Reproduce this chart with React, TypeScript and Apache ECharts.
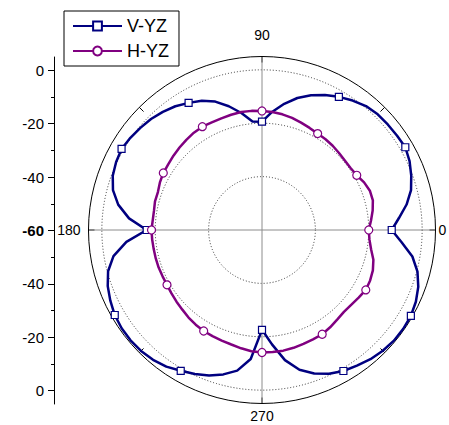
import React, { useEffect, useRef } from 'react';
import * as echarts from 'echarts';

const ANGLES = [
  0, 5, 10, 15, 20, 25, 30, 35, 40, 45, 50, 55, 60, 65, 70, 75, 80, 85,
  90, 95, 100, 105, 110, 115, 120, 125, 130, 135, 140, 145, 150, 155, 160, 165, 170, 175,
  180, 185, 190, 195, 200, 205, 210, 215, 220, 225, 230, 235, 240, 245, 250, 255, 260, 265,
  270, 275, 280, 285, 290, 295, 300, 305, 310, 315, 320, 325, 330, 335, 340, 345, 350, 355,
];

const V_YZ = [
  -11.4, -8.5, -5, -2.2, -0.5, 1, 2, 1.7, 1.5, 1.3, 0.6, -0.8, -2.4, -4.2, -6.3, -8.8, -12, -15.5,
  -19.4, -19.2, -15.5, -12, -8.8, -6.6, -5, -3.4, -2.2, -1.2, -0.5, 0.2, 0.75, 0.3, -0.5, -2.2, -5.3, -10,
  -16.8, -9, -3.5, -0.3, 1.5, 2.7, 3.7, 4.2, 4.3, 4.1, 3.5, 2.5, 0.9, -0.5, -2, -4, -6.5, -11.5,
  -22.6, -17, -10.5, -5.8, -2.8, -0.6, 1, 2, 3.2, 4, 4.5, 4.6, 4.4, 3.6, 2.3, 0.3, -2.8, -7.5,
];

const H_YZ = [
  -20, -19, -17.9, -17, -17, -17.8, -19, -19.5, -19.5, -19.2, -18.8, -18.5, -18.3, -17.8, -17.2, -16.5, -16, -15.6,
  -15.4, -15.2, -15.1, -15.3, -15.5, -15.5, -15.3, -15.5, -15.9, -16.3, -16.7, -17.1, -17.3, -17.8, -18.5, -18.5, -18.9, -18.9,
  -18.6, -18.7, -18.8, -18.8, -18.8, -18.9, -18.9, -18.6, -18.2, -17.8, -17.2, -16.7, -16.3, -16.1, -15.9, -15.6, -15, -14.4,
  -14.1, -14.1, -14.1, -14.3, -14.6, -14.8, -14.9, -15.5, -16.2, -16.6, -16.4, -15.8, -15.1, -15.3, -15.8, -16.8, -18.5, -19.6,
];

const SERIES_NAMES = ['V-YZ', 'H-YZ'];
const MARKER_STEP = 30;
const ANGLE_LABELS = [0, 90, 180, 270];
const LEFT_MAJOR = [-60, -40, -20, 0, 20, 40, 60];
const LEFT_MINOR = [-50, -30, -10, 10, 30, 50];

const FONT = 'Liberation Sans, Arial, sans-serif';
const NAVY = '#000080';
const PURPLE = '#800080';

function buildData(values: number[]) {
  const pts: any[] = ANGLES.map((a, i) =>
    a % MARKER_STEP === 0
      ? { value: [values[i], a] }
      : { value: [values[i], a], symbol: 'none' }
  );
  pts.push({ value: [values[0], 360], symbol: 'none' });
  return pts;
}

export default function App() {
  const ref = useRef<HTMLDivElement>(null);

  useEffect(() => {
    if (!ref.current) return;
    const chart = echarts.init(ref.current, undefined, { renderer: 'svg' });
    const angText = { fontSize: 14, fontFamily: FONT, color: '#000' };
    const option: any = {
      animation: false,
      polar: { center: [262, 230], radius: 173.5 },
      angleAxis: {
        type: 'value',
        min: 0,
        max: 360,
        interval: 45,
        startAngle: 0,
        clockwise: false,
        axisLine: { show: true, lineStyle: { color: '#000', width: 1 } },
        axisTick: { show: true, inside: true, length: 6, lineStyle: { color: '#000', width: 1 } },
        axisLabel: {
          margin: 3,
          color: '#000',
          fontSize: 14,
          fontFamily: FONT,
          formatter: (v: number) => {
            if (v === 90) return '{t|90}';
            if (v === 180) return '{l|180}';
            if (v === 270) return '{b|270}';
            return ANGLE_LABELS.indexOf(v) >= 0 ? String(v) : '';
          },
          rich: {
            t: { ...angText, padding: [0, 0, 12, 0] },
            l: { ...angText, padding: [0, 5, 0, 0] },
            b: { ...angText, padding: [2, 0, 0, 0] },
          },
        },
        splitLine: { show: true, lineStyle: { color: ['#8c8c8c', 'transparent'], width: 1 } },
      },
      radiusAxis: {
        type: 'value',
        min: -60,
        max: 5,
        interval: 20,
        axisLine: { show: false },
        axisTick: { show: false },
        axisLabel: { show: false },
        splitLine: {
          show: true,
          lineStyle: {
            color: ['transparent', '#333', '#333', '#333', 'transparent'],
            type: [1, 2],
            width: 1,
          },
        },
      },
      grid: { left: 54, top: 57, width: 20, height: 347 },
      xAxis: { type: 'value', show: false, min: 0, max: 1 },
      yAxis: [
        {
          type: 'value',
          min: -65,
          max: 65,
          position: 'left',
          axisLine: { show: true, lineStyle: { color: '#000', width: 1 } },
          axisTick: { show: true, length: 6, customValues: LEFT_MAJOR, lineStyle: { color: '#000', width: 1 } },
          axisLabel: {
            show: true,
            customValues: LEFT_MAJOR,
            margin: 10,
            color: '#000',
            fontSize: 15,
            fontFamily: FONT,
            formatter: (v: number) => (v === 0 ? '{c|-60}' : String(Math.abs(v) - 60)),
            rich: { c: { fontSize: 15, fontFamily: FONT, color: '#000', fontWeight: 'bold' } },
          },
          splitLine: { show: false },
        },
        {
          type: 'value',
          min: -65,
          max: 65,
          position: 'left',
          axisLine: { show: false },
          axisTick: { show: true, length: 3, customValues: LEFT_MINOR, lineStyle: { color: '#000', width: 1 } },
          axisLabel: { show: false },
          splitLine: { show: false },
        },
      ],
      legend: {
        orient: 'vertical',
        left: 64,
        top: 11,
        padding: [5, 10, 5, 8],
        itemGap: 5,
        itemWidth: 49,
        itemHeight: 11,
        borderColor: '#000',
        borderWidth: 1,
        backgroundColor: '#fff',
        textStyle: { fontSize: 18, color: '#000', fontFamily: FONT, lineHeight: 20 },
        data: SERIES_NAMES,
      },
      series: [
        {
          name: SERIES_NAMES[0],
          type: 'line',
          coordinateSystem: 'polar',
          data: buildData(V_YZ),
          symbol: 'rect',
          symbolSize: 7,
          showAllSymbol: true,
          smooth: false,
          lineStyle: { color: NAVY, width: 2.5 },
          itemStyle: { color: '#fff', borderColor: NAVY, borderWidth: 1.2 },
          z: 3,
        },
        {
          name: SERIES_NAMES[1],
          type: 'line',
          coordinateSystem: 'polar',
          data: buildData(H_YZ),
          symbol: 'circle',
          symbolSize: 8,
          showAllSymbol: true,
          smooth: false,
          lineStyle: { color: PURPLE, width: 2.5 },
          itemStyle: { color: '#fff', borderColor: PURPLE, borderWidth: 1.2 },
          z: 3,
        },
      ],
    };
    chart.setOption(option);
    return () => chart.dispose();
  }, []);

  return (
    <div
      ref={ref}
      style={{ position: 'absolute', left: 0, top: 0, width: 449, height: 425 }}
    />
  );
}
